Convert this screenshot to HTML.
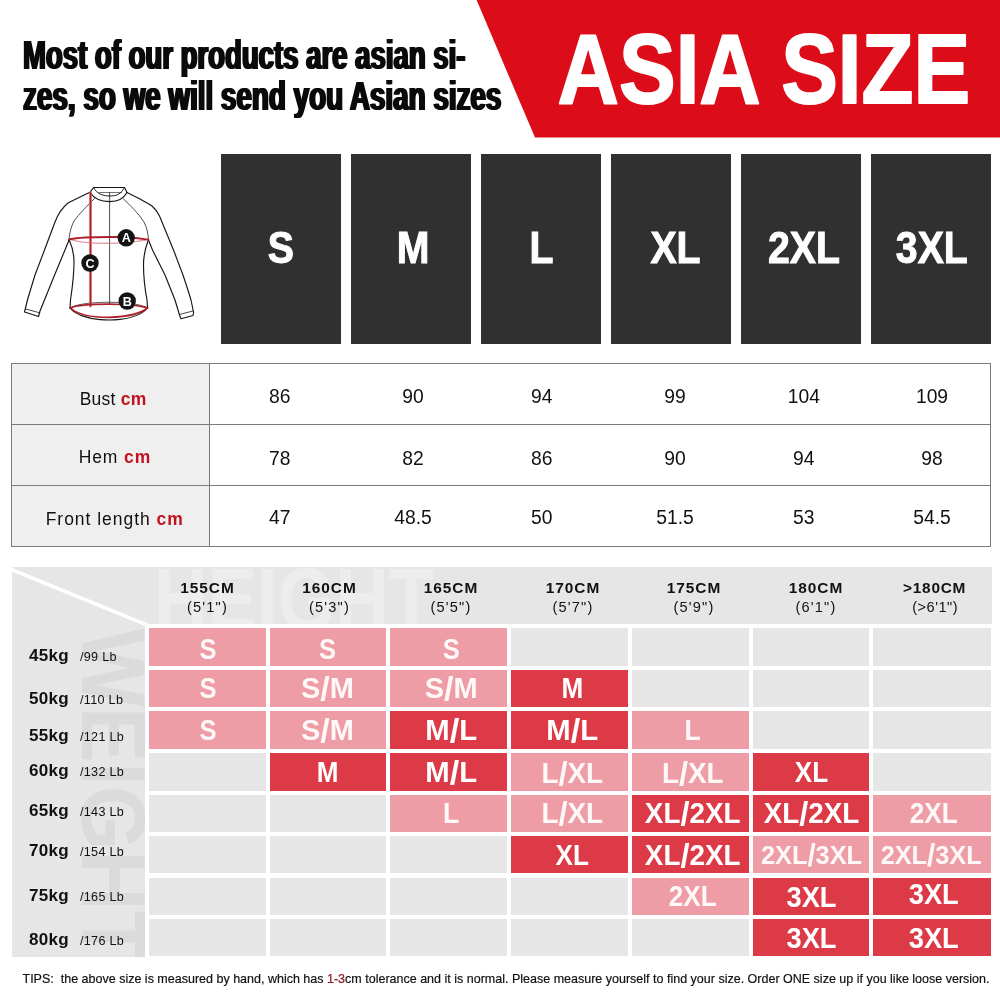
<!DOCTYPE html>
<html lang="en">
<head>
<meta charset="utf-8">
<title>ASIA SIZE chart</title>
<style>
html,body{margin:0;padding:0;background:#fff;}
body{width:1000px;height:1000px;overflow:hidden;font-family:"Liberation Sans",Arial,sans-serif;color:#111;}
.page{position:relative;width:1000px;height:1000px;overflow:hidden;background:#fff;}
.abs{position:absolute;}
.t{position:absolute;white-space:nowrap;line-height:1;}
svg{position:absolute;left:0;top:0;overflow:visible;}
svg text{font-family:"Liberation Sans",Arial,sans-serif;}
.head{position:absolute;left:23.2px;white-space:nowrap;font-weight:700;font-size:40.5px;line-height:40.5px;color:#0a0a0a;transform-origin:0 0;text-shadow:1.6px 0 0 #0a0a0a,-1.6px 0 0 #0a0a0a;}
.sizebox{position:absolute;top:154px;width:120px;height:190px;background:#303030;}
.tbl{position:absolute;left:11px;top:363px;width:980px;height:184px;border:1px solid #7a7a7a;box-sizing:border-box;background:#fff;}
.tbl .lab{position:absolute;left:0;top:0;width:197px;height:182px;background:#efefef;border-right:1px solid #7a7a7a;}
.tbl .hl{position:absolute;left:0;width:978px;height:1px;background:#7a7a7a;}
.panel{position:absolute;left:12px;top:567px;width:980px;height:389.5px;background:#e6e6e6;overflow:hidden;}
.cell{position:absolute;box-sizing:border-box;}
.cell.e{background:#e6e6e6;}
.cell.p{background:#ee9ca5;}
.cell.d{background:#dd3a48;}
</style>
</head>
<body>
<div class="page">

<svg width="1000" height="140" viewBox="0 0 1000 140">
<polygon points="476.6,0 1000,0 1000,137.6 535,137.6" fill="#dc0d18"/>
<text x="557.6" y="102.9" font-size="99" font-weight="700" fill="#ffffff" stroke="#ffffff" stroke-width="2" stroke-linejoin="round" textLength="412.5" lengthAdjust="spacingAndGlyphs">ASIA SIZE</text>
</svg>
<div class="head" style="top:34.7px;transform:scaleX(0.6803)">Most of our products are asian si-</div>
<div class="head" style="top:75.8px;transform:scaleX(0.6871)">zes, so we will send you Asian sizes</div>
<div class="sizebox" style="left:221px"></div>
<div class="sizebox" style="left:351px"></div>
<div class="sizebox" style="left:481px"></div>
<div class="sizebox" style="left:611px"></div>
<div class="sizebox" style="left:741px"></div>
<div class="sizebox" style="left:871px"></div>
<svg width="1000" height="1000" viewBox="0 0 1000 1000" style="pointer-events:none">
<text x="280.8" y="263" font-size="45" font-weight="700" fill="#fff" stroke="#fff" stroke-width="1" text-anchor="middle" transform="translate(280.8 0) scale(0.872 1) translate(-280.8 0)">S</text>
<text x="413.0" y="263" font-size="45" font-weight="700" fill="#fff" stroke="#fff" stroke-width="1" text-anchor="middle" transform="translate(413.0 0) scale(0.872 1) translate(-413.0 0)">M</text>
<text x="541.6" y="263" font-size="45" font-weight="700" fill="#fff" stroke="#fff" stroke-width="1" text-anchor="middle" transform="translate(541.6 0) scale(0.872 1) translate(-541.6 0)">L</text>
<text x="675.5" y="263" font-size="45" font-weight="700" fill="#fff" stroke="#fff" stroke-width="1" text-anchor="middle" transform="translate(675.5 0) scale(0.872 1) translate(-675.5 0)">XL</text>
<text x="804.0" y="263" font-size="45" font-weight="700" fill="#fff" stroke="#fff" stroke-width="1" text-anchor="middle" transform="translate(804.0 0) scale(0.872 1) translate(-804.0 0)">2XL</text>
<text x="931.8" y="263" font-size="45" font-weight="700" fill="#fff" stroke="#fff" stroke-width="1" text-anchor="middle" transform="translate(931.8 0) scale(0.872 1) translate(-931.8 0)">3XL</text>
</svg>
<svg width="1000" height="1000" viewBox="0 0 1000 1000">
<g fill="none" stroke="#161616" stroke-width="1.15" stroke-linejoin="round" stroke-linecap="round">
<path d="M93.5,187.5 L124.5,187.5"/>
<path d="M93.5,187.5 L90,192.3 C94,199 102,201.6 110,201.6 C117,201.6 123.5,199 127,192.5 L124.5,187.5"/>
<path d="M93.5,187.5 C97,194.5 104,196 110,196 C116,196 121,194.5 124.5,187.5" stroke-width="0.95"/>
<path d="M99,192.5 L121.5,192.5" stroke-width="0.6"/>
<path d="M90,192.3 C82,196 74,200 68,203 C62,208 58,214 55,222 L44.5,250 L35,275 C32,285 29.5,293 28,298 L24.5,312 L38.5,316.5 L40,311 L55,274 L65,250 L69,240"/>
<path d="M25.5,309 L39.8,312.8" stroke-width="0.8"/>
<path d="M127,192.5 C133,195.5 137,197.5 140,199 C146,202.5 149,204 152,206 C156,209.5 158,212.5 159.5,216 L173.5,250 L183,275 C187,287 189.5,295 191,300 L193.6,312.5 L193,315.5 L181,318.8 L179.5,315 L175,300 L165,275 L152.5,250 L148.5,240"/>
<path d="M179.5,314.5 L193,311" stroke-width="0.8"/>
<path d="M69,239.5 C72,246 74,254 74,262 C74,275 72,290 70.5,300 L70,308"/>
<path d="M148.5,239.5 C146,246 143.5,255 143.5,265 C143.5,278 145.5,292 147,300 L147.5,308"/>
<path d="M70,308 C75,314.5 88,318.6 100,319.6 C106,320.1 113,320.1 118,319.6 C130,318.4 142,314.5 147.5,308"/>
<path d="M70,308 C76,304.2 90,302.4 109,302.2 C128,302.4 141,304.2 147.5,308" stroke-width="0.7"/>
<path d="M94.5,198.5 C88,205 79,214 74,221 C71,227 69.5,233 69,239.5" stroke-width="0.75"/>
<path d="M123.5,199 C130,205 139,214 144,222 C147,228 148,233 148.5,239.5" stroke-width="0.75"/>
<path d="M109.6,192.6 L109.6,304" stroke-width="0.75"/>
</g>
<g fill="none" stroke-linecap="round">
<path d="M90.5,192.8 L90.5,306" stroke="#e9a2a8" stroke-width="3.2" opacity="0.55"/>
<path d="M90.5,192.8 L90.5,306" stroke="#ad1f2b" stroke-width="1.9"/>
<path d="M69.5,239.3 C80,242.6 100,243.6 118,243.1 C130,242.6 140,241.2 148.3,239.6" stroke="#d9707a" stroke-width="1.3" opacity="0.7"/>
<path d="M69.5,239.2 C80,237.2 100,236.8 118,237 C130,237.3 140,238.3 148.3,239.6" stroke="#ad1f2b" stroke-width="1.9"/>
<path d="M70.5,308 C76,305.4 90,304.2 109,304.2 C128,304.4 141,305.8 147.3,308 C142,312.8 130,316.6 109,317.4 C88,317.4 76,313.2 70.5,308 Z" stroke="#ad1f2b" stroke-width="1.7"/>
</g>
<circle cx="126.2" cy="237.8" r="8.7" fill="#141414"/>
<text x="126.2" y="242.3" font-size="12.6" font-weight="700" fill="#fff" text-anchor="middle">A</text>
<circle cx="90.0" cy="263.0" r="8.7" fill="#141414"/>
<text x="90.0" y="267.5" font-size="12.6" font-weight="700" fill="#fff" text-anchor="middle">C</text>
<circle cx="127.2" cy="301.0" r="8.7" fill="#141414"/>
<text x="127.2" y="305.5" font-size="12.6" font-weight="700" fill="#fff" text-anchor="middle">B</text>
</svg>
<div class="tbl">
<div class="lab"></div>
<div class="hl" style="top:60px"></div><div class="hl" style="top:121px"></div>
</div>
<svg width="1000" height="1000" viewBox="0 0 1000 1000">
<text x="79.7" y="404.5" font-size="17.5" fill="#111" textLength="66.6" lengthAdjust="spacing">Bust <tspan font-weight="700" fill="#c2121f">cm</tspan></text>
<text x="279.8" y="403.2" font-size="19.3" text-anchor="middle" fill="#111">86</text>
<text x="413.0" y="403.2" font-size="19.3" text-anchor="middle" fill="#111">90</text>
<text x="541.8" y="403.2" font-size="19.3" text-anchor="middle" fill="#111">94</text>
<text x="675.0" y="403.2" font-size="19.3" text-anchor="middle" fill="#111">99</text>
<text x="803.8" y="403.2" font-size="19.3" text-anchor="middle" fill="#111">104</text>
<text x="932.0" y="403.2" font-size="19.3" text-anchor="middle" fill="#111">109</text>
<text x="78.7" y="462.5" font-size="17.5" fill="#111" textLength="71.6" lengthAdjust="spacing">Hem <tspan font-weight="700" fill="#c2121f">cm</tspan></text>
<text x="279.8" y="465.0" font-size="19.3" text-anchor="middle" fill="#111">78</text>
<text x="413.0" y="465.0" font-size="19.3" text-anchor="middle" fill="#111">82</text>
<text x="541.8" y="465.0" font-size="19.3" text-anchor="middle" fill="#111">86</text>
<text x="675.0" y="465.0" font-size="19.3" text-anchor="middle" fill="#111">90</text>
<text x="803.8" y="465.0" font-size="19.3" text-anchor="middle" fill="#111">94</text>
<text x="932.0" y="465.0" font-size="19.3" text-anchor="middle" fill="#111">98</text>
<text x="45.7" y="524.5" font-size="17.5" fill="#111" textLength="137.1" lengthAdjust="spacing">Front length <tspan font-weight="700" fill="#c2121f">cm</tspan></text>
<text x="279.8" y="524.0" font-size="19.3" text-anchor="middle" fill="#111">47</text>
<text x="413.0" y="524.0" font-size="19.3" text-anchor="middle" fill="#111">48.5</text>
<text x="541.8" y="524.0" font-size="19.3" text-anchor="middle" fill="#111">50</text>
<text x="675.0" y="524.0" font-size="19.3" text-anchor="middle" fill="#111">51.5</text>
<text x="803.8" y="524.0" font-size="19.3" text-anchor="middle" fill="#111">53</text>
<text x="932.0" y="524.0" font-size="19.3" text-anchor="middle" fill="#111">54.5</text>
</svg>
<div class="panel">
<svg width="980" height="390" viewBox="12 567 980 390">
<text x="154" y="629" font-size="87" font-weight="700" fill="#ededed" textLength="280" lengthAdjust="spacingAndGlyphs">HEIGHT</text>
<text transform="translate(81.5 628.5) rotate(90)" x="0" y="0" font-size="91" font-weight="700" fill="#dbdbdb" textLength="333" lengthAdjust="spacingAndGlyphs">WEIGHT</text>
<path d="M11,569.4 L148,625.4" stroke="#fff" stroke-width="3.6" fill="none"/>
</svg>
</div>
<div class="abs" style="left:145px;top:624px;width:847px;height:332.5px;background:#fff"></div>
<div class="cell p" style="left:149.0px;top:628.0px;width:116.5px;height:37.5px"></div>
<div class="cell p" style="left:270.0px;top:628.0px;width:116.0px;height:37.5px"></div>
<div class="cell p" style="left:390.0px;top:628.0px;width:117.0px;height:37.5px"></div>
<div class="cell e" style="left:511.3px;top:628.0px;width:116.7px;height:37.5px"></div>
<div class="cell e" style="left:632.3px;top:628.0px;width:116.4px;height:37.5px"></div>
<div class="cell e" style="left:753.3px;top:628.0px;width:115.6px;height:37.5px"></div>
<div class="cell e" style="left:873.4px;top:628.0px;width:118.1px;height:37.5px"></div>
<div class="cell p" style="left:149.0px;top:670.0px;width:116.5px;height:37.0px"></div>
<div class="cell p" style="left:270.0px;top:670.0px;width:116.0px;height:37.0px"></div>
<div class="cell p" style="left:390.0px;top:670.0px;width:117.0px;height:37.0px"></div>
<div class="cell d" style="left:511.3px;top:670.0px;width:116.7px;height:37.0px"></div>
<div class="cell e" style="left:632.3px;top:670.0px;width:116.4px;height:37.0px"></div>
<div class="cell e" style="left:753.3px;top:670.0px;width:115.6px;height:37.0px"></div>
<div class="cell e" style="left:873.4px;top:670.0px;width:118.1px;height:37.0px"></div>
<div class="cell p" style="left:149.0px;top:711.0px;width:116.5px;height:37.5px"></div>
<div class="cell p" style="left:270.0px;top:711.0px;width:116.0px;height:37.5px"></div>
<div class="cell d" style="left:390.0px;top:711.0px;width:117.0px;height:37.5px"></div>
<div class="cell d" style="left:511.3px;top:711.0px;width:116.7px;height:37.5px"></div>
<div class="cell p" style="left:632.3px;top:711.0px;width:116.4px;height:37.5px"></div>
<div class="cell e" style="left:753.3px;top:711.0px;width:115.6px;height:37.5px"></div>
<div class="cell e" style="left:873.4px;top:711.0px;width:118.1px;height:37.5px"></div>
<div class="cell e" style="left:149.0px;top:753.0px;width:116.5px;height:37.5px"></div>
<div class="cell d" style="left:270.0px;top:753.0px;width:116.0px;height:37.5px"></div>
<div class="cell d" style="left:390.0px;top:753.0px;width:117.0px;height:37.5px"></div>
<div class="cell p" style="left:511.3px;top:753.0px;width:116.7px;height:37.5px"></div>
<div class="cell p" style="left:632.3px;top:753.0px;width:116.4px;height:37.5px"></div>
<div class="cell d" style="left:753.3px;top:753.0px;width:115.6px;height:37.5px"></div>
<div class="cell e" style="left:873.4px;top:753.0px;width:118.1px;height:37.5px"></div>
<div class="cell e" style="left:149.0px;top:795.0px;width:116.5px;height:36.8px"></div>
<div class="cell e" style="left:270.0px;top:795.0px;width:116.0px;height:36.8px"></div>
<div class="cell p" style="left:390.0px;top:795.0px;width:117.0px;height:36.8px"></div>
<div class="cell p" style="left:511.3px;top:795.0px;width:116.7px;height:36.8px"></div>
<div class="cell d" style="left:632.3px;top:795.0px;width:116.4px;height:36.8px"></div>
<div class="cell d" style="left:753.3px;top:795.0px;width:115.6px;height:36.8px"></div>
<div class="cell p" style="left:873.4px;top:795.0px;width:118.1px;height:36.8px"></div>
<div class="cell e" style="left:149.0px;top:835.7px;width:116.5px;height:37.8px"></div>
<div class="cell e" style="left:270.0px;top:835.7px;width:116.0px;height:37.8px"></div>
<div class="cell e" style="left:390.0px;top:835.7px;width:117.0px;height:37.8px"></div>
<div class="cell d" style="left:511.3px;top:835.7px;width:116.7px;height:37.8px"></div>
<div class="cell d" style="left:632.3px;top:835.7px;width:116.4px;height:37.8px"></div>
<div class="cell p" style="left:753.3px;top:835.7px;width:115.6px;height:37.8px"></div>
<div class="cell p" style="left:873.4px;top:835.7px;width:118.1px;height:37.8px"></div>
<div class="cell e" style="left:149.0px;top:878.0px;width:116.5px;height:36.5px"></div>
<div class="cell e" style="left:270.0px;top:878.0px;width:116.0px;height:36.5px"></div>
<div class="cell e" style="left:390.0px;top:878.0px;width:117.0px;height:36.5px"></div>
<div class="cell e" style="left:511.3px;top:878.0px;width:116.7px;height:36.5px"></div>
<div class="cell p" style="left:632.3px;top:878.0px;width:116.4px;height:36.5px"></div>
<div class="cell d" style="left:753.3px;top:878.0px;width:115.6px;height:36.5px"></div>
<div class="cell d" style="left:873.4px;top:878.0px;width:118.1px;height:36.5px"></div>
<div class="cell e" style="left:149.0px;top:919.2px;width:116.5px;height:37.3px"></div>
<div class="cell e" style="left:270.0px;top:919.2px;width:116.0px;height:37.3px"></div>
<div class="cell e" style="left:390.0px;top:919.2px;width:117.0px;height:37.3px"></div>
<div class="cell e" style="left:511.3px;top:919.2px;width:116.7px;height:37.3px"></div>
<div class="cell e" style="left:632.3px;top:919.2px;width:116.4px;height:37.3px"></div>
<div class="cell d" style="left:753.3px;top:919.2px;width:115.6px;height:37.3px"></div>
<div class="cell d" style="left:873.4px;top:919.2px;width:118.1px;height:37.3px"></div>
<svg width="1000" height="1000" viewBox="0 0 1000 1000">
<text x="207.5" y="592.5" font-size="15.4" font-weight="700" text-anchor="middle" fill="#111" letter-spacing="1.0">155CM</text>
<text x="207.5" y="611.6" font-size="14.6" text-anchor="middle" fill="#111" letter-spacing="1.2">(5'1")</text>
<text x="329.5" y="592.5" font-size="15.4" font-weight="700" text-anchor="middle" fill="#111" letter-spacing="1.0">160CM</text>
<text x="329.5" y="611.6" font-size="14.6" text-anchor="middle" fill="#111" letter-spacing="1.2">(5'3")</text>
<text x="451.0" y="592.5" font-size="15.4" font-weight="700" text-anchor="middle" fill="#111" letter-spacing="1.0">165CM</text>
<text x="451.0" y="611.6" font-size="14.6" text-anchor="middle" fill="#111" letter-spacing="1.2">(5'5")</text>
<text x="573.0" y="592.5" font-size="15.4" font-weight="700" text-anchor="middle" fill="#111" letter-spacing="1.0">170CM</text>
<text x="573.0" y="611.6" font-size="14.6" text-anchor="middle" fill="#111" letter-spacing="1.2">(5'7")</text>
<text x="694.0" y="592.5" font-size="15.4" font-weight="700" text-anchor="middle" fill="#111" letter-spacing="1.0">175CM</text>
<text x="694.0" y="611.6" font-size="14.6" text-anchor="middle" fill="#111" letter-spacing="1.2">(5'9")</text>
<text x="816.0" y="592.5" font-size="15.4" font-weight="700" text-anchor="middle" fill="#111" letter-spacing="1.0">180CM</text>
<text x="816.0" y="611.6" font-size="14.6" text-anchor="middle" fill="#111" letter-spacing="1.2">(6'1")</text>
<text x="934.6" y="592.5" font-size="15.4" font-weight="700" text-anchor="middle" fill="#111" letter-spacing="0.75">&gt;180CM</text>
<text x="935.2" y="611.6" font-size="14.6" text-anchor="middle" fill="#111" letter-spacing="0.5">(&gt;6'1")</text>
<text x="29" y="660.5" font-size="17" font-weight="700" fill="#111" letter-spacing="0.3">45kg</text>
<text x="80" y="660.5" font-size="12.6" fill="#111" letter-spacing="0.3">/99 Lb</text>
<text x="29" y="703.8" font-size="17" font-weight="700" fill="#111" letter-spacing="0.3">50kg</text>
<text x="80" y="703.8" font-size="12.6" fill="#111" letter-spacing="0.3">/110 Lb</text>
<text x="29" y="740.5" font-size="17" font-weight="700" fill="#111" letter-spacing="0.3">55kg</text>
<text x="80" y="740.5" font-size="12.6" fill="#111" letter-spacing="0.3">/121 Lb</text>
<text x="29" y="775.7" font-size="17" font-weight="700" fill="#111" letter-spacing="0.3">60kg</text>
<text x="80" y="775.7" font-size="12.6" fill="#111" letter-spacing="0.3">/132 Lb</text>
<text x="29" y="816.0" font-size="17" font-weight="700" fill="#111" letter-spacing="0.3">65kg</text>
<text x="80" y="816.0" font-size="12.6" fill="#111" letter-spacing="0.3">/143 Lb</text>
<text x="29" y="856.0" font-size="17" font-weight="700" fill="#111" letter-spacing="0.3">70kg</text>
<text x="80" y="856.0" font-size="12.6" fill="#111" letter-spacing="0.3">/154 Lb</text>
<text x="29" y="900.5" font-size="17" font-weight="700" fill="#111" letter-spacing="0.3">75kg</text>
<text x="80" y="900.5" font-size="12.6" fill="#111" letter-spacing="0.3">/165 Lb</text>
<text x="29" y="945.0" font-size="17" font-weight="700" fill="#111" letter-spacing="0.3">80kg</text>
<text x="80" y="945.0" font-size="12.6" fill="#111" letter-spacing="0.3">/176 Lb</text>
<text transform="translate(208.00 658.75) scale(0.880 1)" font-size="29" font-weight="700" text-anchor="middle" fill="#fff8f8">S</text>
<text transform="translate(327.50 658.75) scale(0.880 1)" font-size="29" font-weight="700" text-anchor="middle" fill="#fff8f8">S</text>
<text transform="translate(451.25 658.75) scale(0.880 1)" font-size="29" font-weight="700" text-anchor="middle" fill="#fff8f8">S</text>
<text transform="translate(208.00 697.75) scale(0.880 1)" font-size="29" font-weight="700" text-anchor="middle" fill="#fff8f8">S</text>
<text transform="translate(327.50 697.75) scale(1.000 1)" font-size="29" font-weight="700" text-anchor="middle" fill="#fff8f8">S<tspan font-size="34" dy="2">/</tspan><tspan dy="-2">M</tspan></text>
<text transform="translate(451.25 697.75) scale(1.000 1)" font-size="29" font-weight="700" text-anchor="middle" fill="#fff8f8">S<tspan font-size="34" dy="2">/</tspan><tspan dy="-2">M</tspan></text>
<text transform="translate(572.25 697.75) scale(0.900 1)" font-size="29" font-weight="700" text-anchor="middle" fill="#fff">M</text>
<text transform="translate(208.00 739.75) scale(0.880 1)" font-size="29" font-weight="700" text-anchor="middle" fill="#fff8f8">S</text>
<text transform="translate(327.50 739.75) scale(1.000 1)" font-size="29" font-weight="700" text-anchor="middle" fill="#fff8f8">S<tspan font-size="34" dy="2">/</tspan><tspan dy="-2">M</tspan></text>
<text transform="translate(451.25 739.75) scale(1.010 1)" font-size="29" font-weight="700" text-anchor="middle" fill="#fff">M<tspan font-size="34" dy="2">/</tspan><tspan dy="-2">L</tspan></text>
<text transform="translate(572.25 739.75) scale(1.010 1)" font-size="29" font-weight="700" text-anchor="middle" fill="#fff">M<tspan font-size="34" dy="2">/</tspan><tspan dy="-2">L</tspan></text>
<text transform="translate(692.70 739.75) scale(0.920 1)" font-size="29" font-weight="700" text-anchor="middle" fill="#fff8f8">L</text>
<text transform="translate(327.50 781.75) scale(0.900 1)" font-size="29" font-weight="700" text-anchor="middle" fill="#fff">M</text>
<text transform="translate(451.25 781.75) scale(1.010 1)" font-size="29" font-weight="700" text-anchor="middle" fill="#fff">M<tspan font-size="34" dy="2">/</tspan><tspan dy="-2">L</tspan></text>
<text transform="translate(572.25 782.75) scale(0.960 1)" font-size="29" font-weight="700" text-anchor="middle" fill="#fff8f8">L<tspan font-size="34" dy="2">/</tspan><tspan dy="-2">XL</tspan></text>
<text transform="translate(692.70 782.75) scale(0.960 1)" font-size="29" font-weight="700" text-anchor="middle" fill="#fff8f8">L<tspan font-size="34" dy="2">/</tspan><tspan dy="-2">XL</tspan></text>
<text transform="translate(811.50 781.75) scale(0.900 1)" font-size="29" font-weight="700" text-anchor="middle" fill="#fff">XL</text>
<text transform="translate(451.25 823.40) scale(0.920 1)" font-size="29" font-weight="700" text-anchor="middle" fill="#fff8f8">L</text>
<text transform="translate(572.25 823.40) scale(0.960 1)" font-size="29" font-weight="700" text-anchor="middle" fill="#fff8f8">L<tspan font-size="34" dy="2">/</tspan><tspan dy="-2">XL</tspan></text>
<text transform="translate(692.70 823.40) scale(0.960 1)" font-size="29" font-weight="700" text-anchor="middle" fill="#fff">XL<tspan font-size="34" dy="2">/</tspan><tspan dy="-2">2XL</tspan></text>
<text transform="translate(811.50 823.40) scale(0.960 1)" font-size="29" font-weight="700" text-anchor="middle" fill="#fff">XL<tspan font-size="34" dy="2">/</tspan><tspan dy="-2">2XL</tspan></text>
<text transform="translate(933.75 823.40) scale(0.900 1)" font-size="29" font-weight="700" text-anchor="middle" fill="#fff8f8">2XL</text>
<text transform="translate(572.25 864.60) scale(0.900 1)" font-size="29" font-weight="700" text-anchor="middle" fill="#fff">XL</text>
<text transform="translate(692.70 864.60) scale(0.960 1)" font-size="29" font-weight="700" text-anchor="middle" fill="#fff">XL<tspan font-size="34" dy="2">/</tspan><tspan dy="-2">2XL</tspan></text>
<text transform="translate(811.50 864.00) scale(0.955 1)" font-size="26.5" font-weight="700" text-anchor="middle" fill="#fff8f8">2XL<tspan font-size="31" dy="2">/</tspan><tspan dy="-2">3XL</tspan></text>
<text transform="translate(931.15 864.00) scale(0.955 1)" font-size="26.5" font-weight="700" text-anchor="middle" fill="#fff8f8">2XL<tspan font-size="31" dy="2">/</tspan><tspan dy="-2">3XL</tspan></text>
<text transform="translate(692.70 906.25) scale(0.900 1)" font-size="29" font-weight="700" text-anchor="middle" fill="#fff8f8">2XL</text>
<text transform="translate(811.50 907.25) scale(0.940 1)" font-size="29" font-weight="700" text-anchor="middle" fill="#fff">3XL</text>
<text transform="translate(933.75 903.50) scale(0.940 1)" font-size="29" font-weight="700" text-anchor="middle" fill="#fff">3XL</text>
<text transform="translate(811.50 947.85) scale(0.940 1)" font-size="29" font-weight="700" text-anchor="middle" fill="#fff">3XL</text>
<text transform="translate(933.75 947.85) scale(0.940 1)" font-size="29" font-weight="700" text-anchor="middle" fill="#fff">3XL</text>
<text x="22.5" y="983" font-size="13.3" fill="#111" stroke="#111" stroke-width="0.2" textLength="967" lengthAdjust="spacingAndGlyphs" xml:space="preserve">TIPS:  the above size is measured by hand, which has <tspan fill="#c2121f">1-3</tspan>cm tolerance and it is normal. Please measure yourself to find your size. Order ONE size up if you like loose version.</text>
</svg>
</div>
</body>
</html>
